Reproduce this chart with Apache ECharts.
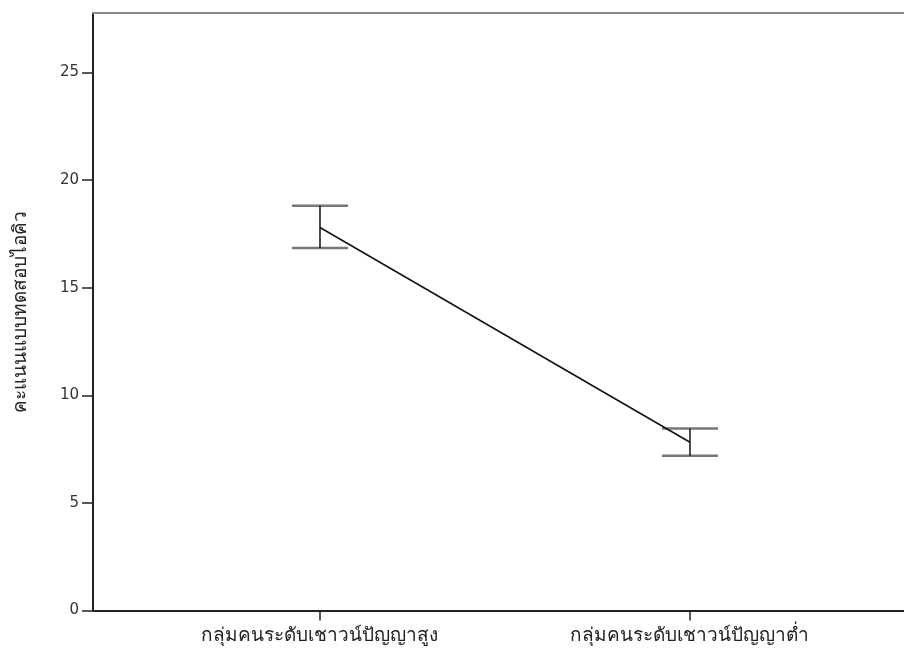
<!DOCTYPE html>
<html>
<head>
<meta charset="utf-8">
<script src="https://cdn.jsdelivr.net/npm/echarts@6/dist/echarts.min.js"></script>
<style>
  html, body { margin: 0; padding: 0; background: #fff; }
  #chart { width: 904px; height: 657px; }
</style>
</head>
<body>
<div id="chart"></div>
<script>
// Group names and the IQ-test score summary for each group
const categories = ['กลุ่มคนระดับเชาวน์ปัญญาสูง', 'กลุ่มคนระดับเชาวน์ปัญญาต่ำ'];
const means = [17.80, 7.82];
const upper = [18.81, 8.46];
const lower = [16.85, 7.19];
const yTicks = [0, 5, 10, 15, 20, 25];
const yTitle = 'คะแนนแบบทดสอบไอคิว';

// Category positions on the numeric x scale
const positions = categories.map((_, i) => i + 1);

const FONT = 'Tahoma, "DejaVu Sans", "Noto Sans", sans-serif';

const chart = echarts.init(document.getElementById('chart'), null, { renderer: 'canvas' });

const meanLine = positions.map((p, i) => [p, means[i]]);
const bars = positions.map((p, i) => [p, lower[i], upper[i], means[i]]);

chart.setOption({
  animation: false,
  backgroundColor: '#ffffff',
  grid: { left: 93, right: 0, top: 13, bottom: 46.5 },
  xAxis: [
    {
      type: 'value',
      position: 'bottom',
      min: 0.3865,
      max: 2.5784,
      splitLine: { show: false },
      axisLine: { show: true, onZero: false, lineStyle: { color: '#222', width: 2 } },
      axisTick: {
        show: true, length: 10, customValues: positions,
        lineStyle: { color: '#222', width: 1.5 }
      },
      axisLabel: {
        show: true, customValues: positions, margin: 16,
        color: '#222', fontSize: 19, fontFamily: FONT,
        formatter: v => categories[Math.round(v) - 1] || ''
      }
    },
    {
      type: 'value',
      position: 'top',
      min: 0.3865,
      max: 2.5784,
      splitLine: { show: false },
      axisLine: { show: true, onZero: false, lineStyle: { color: '#888', width: 2 } },
      axisTick: { show: false },
      axisLabel: { show: false }
    }
  ],
  yAxis: {
    type: 'value',
    min: 0,
    max: 27.77,
    splitLine: { show: false },
    name: yTitle,
    nameLocation: 'middle',
    nameGap: 62,
    nameRotate: 90,
    nameTextStyle: { color: '#222', fontSize: 19, fontFamily: FONT },
    axisLine: { show: true, onZero: false, lineStyle: { color: '#222', width: 2 } },
    axisTick: {
      show: true, length: 11, customValues: yTicks,
      lineStyle: { color: '#222', width: 1.5 }
    },
    axisLabel: {
      show: true, customValues: yTicks, margin: 14,
      color: '#333', fontSize: 15, fontFamily: FONT
    }
  },
  series: [
    {
      type: 'line',
      data: meanLine,
      symbol: 'none',
      lineStyle: { color: '#111', width: 1.5 },
      z: 3
    },
    {
      type: 'custom',
      data: bars,
      z: 2,
      renderItem: function (params, api) {
        const x = api.value(0);
        const lo = api.coord([x, api.value(1)]);
        const hi = api.coord([x, api.value(2)]);
        const half = 28;
        return {
          type: 'group',
          children: [
            {
              type: 'line',
              shape: { x1: hi[0] - half, y1: hi[1], x2: hi[0] + half, y2: hi[1] },
              style: { stroke: '#777', lineWidth: 2.5 }
            },
            {
              type: 'line',
              shape: { x1: lo[0] - half, y1: lo[1], x2: lo[0] + half, y2: lo[1] },
              style: { stroke: '#777', lineWidth: 2.5 }
            },
            {
              type: 'line',
              shape: { x1: hi[0], y1: hi[1], x2: lo[0], y2: lo[1] },
              style: { stroke: '#111', lineWidth: 1.5 }
            }
          ]
        };
      }
    }
  ]
});
</script>
</body>
</html>
